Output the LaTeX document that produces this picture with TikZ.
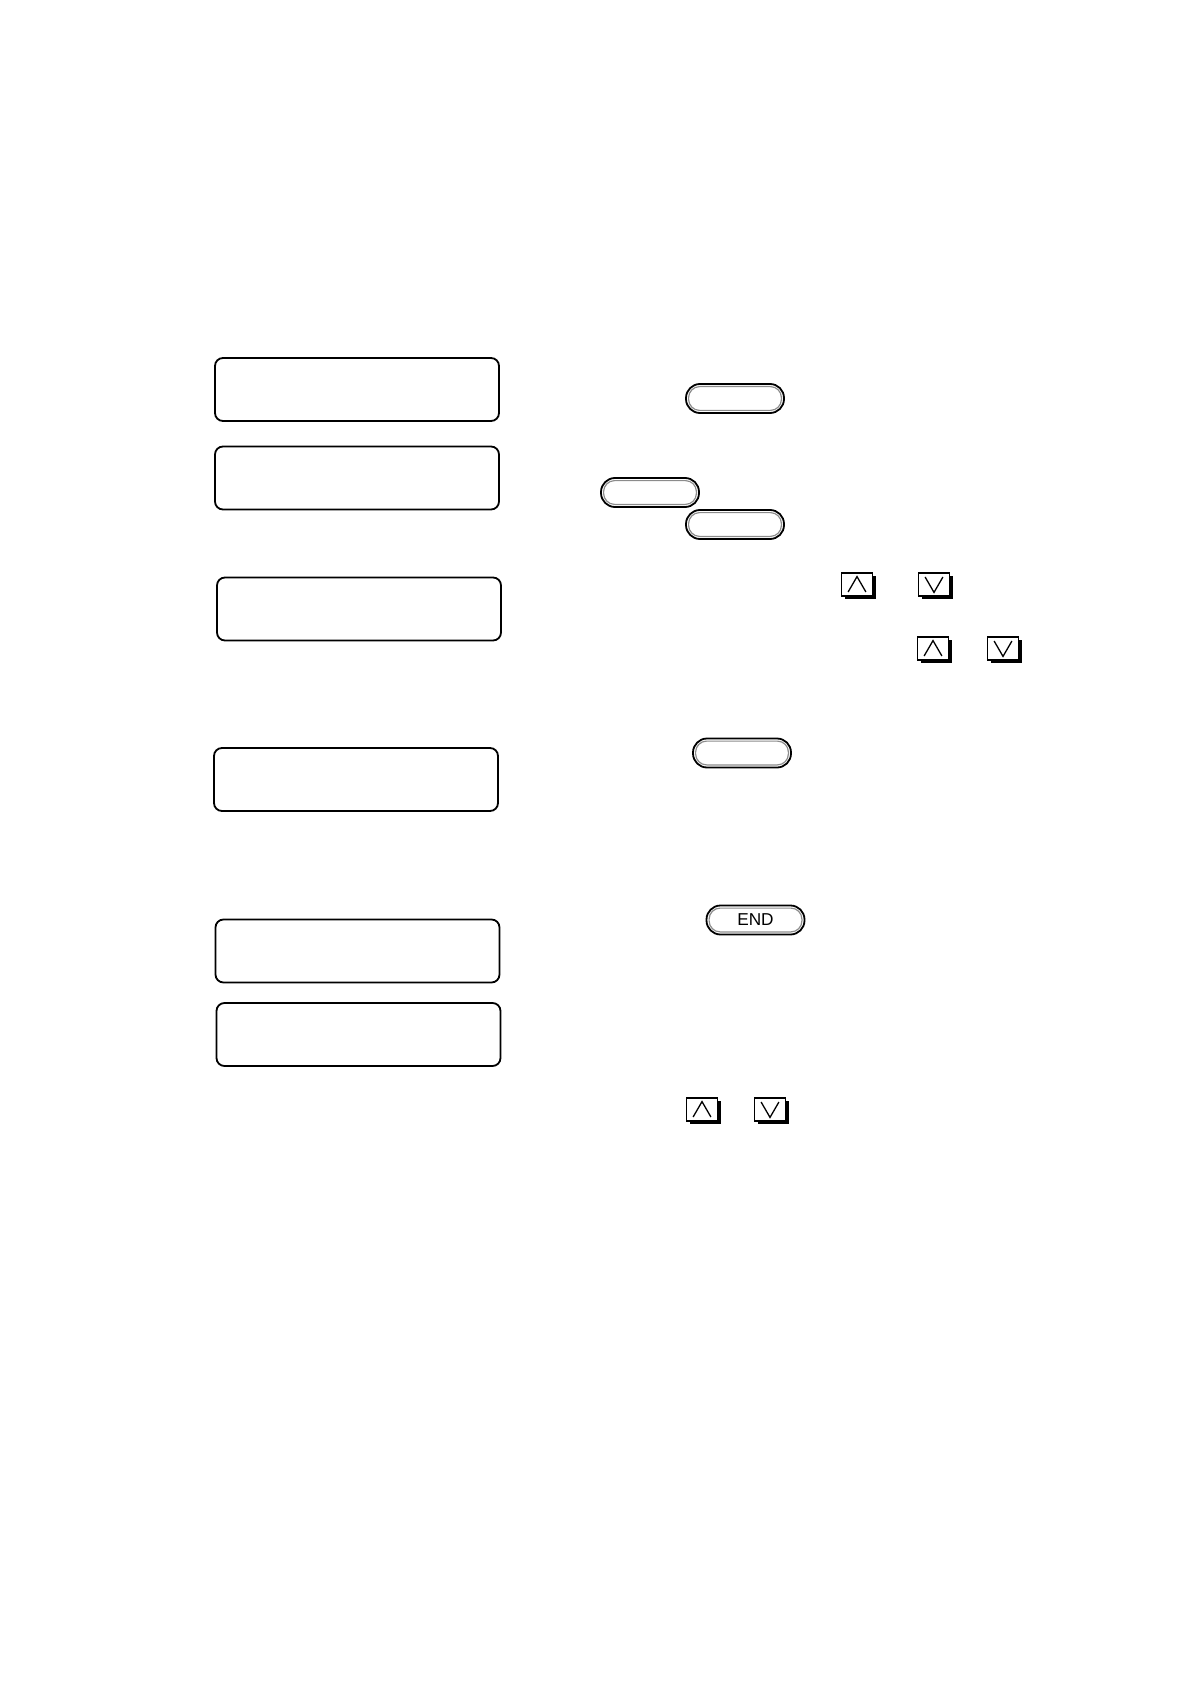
\documentclass[tikz,border=0pt]{standalone}
\usepackage{fontspec}
\setmainfont{Liberation Sans}
\usetikzlibrary{shadows}

\begin{document}
\begin{tikzpicture}[x=0.5pt,y=-0.5pt,
  lcd/.style={draw,line width=0.9pt,rounded corners=4pt,minimum width=142pt,minimum height=31.5pt},
  key/.style={draw,line width=0.9pt,rounded corners=7pt,minimum width=49pt,minimum height=14.5pt,inner sep=0pt,
    font=\fontsize{8.6}{9}\selectfont,
    path picture={\draw[black!45,line width=0.6pt,rounded corners=5.5pt]
      ([shift={(1.3pt,-1.3pt)}]path picture bounding box.north west) rectangle
      ([shift={(-1.3pt,1.3pt)}]path picture bounding box.south east);}},
  arrowkey/.style={draw,fill=white,line width=0.8pt,minimum width=15.5pt,minimum height=11.5pt,inner sep=0pt,
    drop shadow={shadow xshift=1.6pt,shadow yshift=-1.6pt,fill=black,opacity=1}},
  upkey/.style={arrowkey,path picture={\draw[line width=0.65pt]
      ([shift={(3.3pt,2pt)}]path picture bounding box.south west) --
      ([yshift=-1.8pt]path picture bounding box.north) --
      ([shift={(-3.3pt,2pt)}]path picture bounding box.south east);}},
  downkey/.style={arrowkey,path picture={\draw[line width=0.65pt]
      ([shift={(3.3pt,-2pt)}]path picture bounding box.north west) --
      ([yshift=1.8pt]path picture bounding box.south) --
      ([shift={(-3.3pt,-2pt)}]path picture bounding box.north east);}}]

\useasboundingbox (0,0) rectangle (1190,1684);

\node[lcd] (lcdA) at (357,389.5) {};
\node[lcd] (lcdB) at (357,478) {};
\node[lcd] (lcdC) at (359,609) {};
\node[lcd] (lcdD) at (356,779.5) {};
\node[lcd] (lcdE) at (357.5,951) {};
\node[lcd] (lcdF) at (358.5,1034.5) {};

\node[key] (keyA) at (735,398.5) {};
\node[key] (keyB) at (650,492.5) {};
\node[key] (keyC) at (735,524.5) {};
\node[key] (keyD) at (742,753) {};
\node[key] (keyEnd) at (755.5,920) {END};

\node[upkey] (upA) at (857,584.5) {};
\node[downkey] (downA) at (934,584.5) {};
\node[upkey] (upB) at (933,648.5) {};
\node[downkey] (downB) at (1003,648.5) {};
\node[upkey] (upC) at (702,1109.5) {};
\node[downkey] (downC) at (770,1109.5) {};
\end{tikzpicture}
\end{document}
